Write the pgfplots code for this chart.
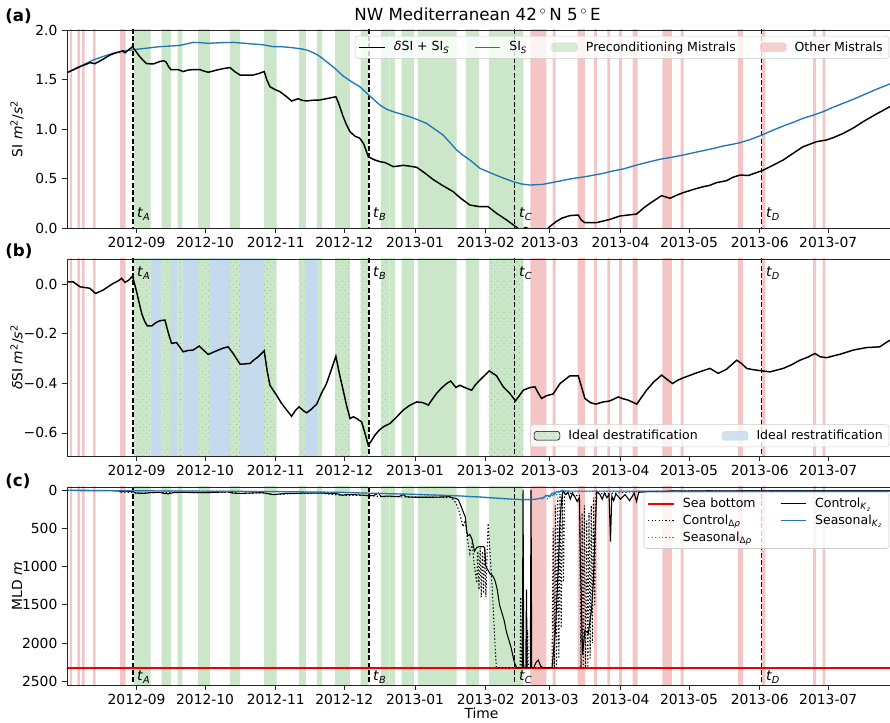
\documentclass[border=0pt]{standalone}
\usepackage{pgfplots}
\pgfplotsset{compat=1.18}
\usepackage{pgfplotstable}
\usepackage{fontspec}
\setmainfont{DejaVu Sans}
\usetikzlibrary{patterns.meta}
\definecolor{grn}{RGB}{203,230,201}
\definecolor{redb}{RGB}{244,197,197}
\definecolor{bluband}{RGB}{197,218,236}
\definecolor{tabblue}{RGB}{31,119,180}
\definecolor{dotgrn}{RGB}{125,188,125}
\definecolor{seared}{RGB}{240,0,0}

\pgfplotstableread{
x f
-29.2 0
-29.2 1
-28.2 0
-26.0 1
-24.8 0
-24.0 1
-22.8 0
-19.1 1
-18.0 0
-7.3 1
-4.8 0
172.5 1
179.5 0
182.3 1
183.6 0
193.2 1
196.4 0
200.4 1
201.7 0
206.2 1
207.5 0
211.3 1
212.6 0
217.3 1
219.5 0
230.3 1
234.5 0
238.3 1
239.6 0
263.4 1
265.6 0
273.9 1
275.5 0
296.4 1
297.7 0
300.5 1
301.8 0
-29.2 0
}\redtab
\pgfplotstableread{
x f
-1.2 0
-1.2 1
6.1 0
11.0 1
15.0 0
18.0 1
20.1 0
26.9 1
32.1 0
40.9 1
45.3 0
55.9 1
61.3 0
71.1 1
74.2 0
79.0 1
81.3 0
87.0 1
93.4 0
98.1 1
101.5 0
107.0 1
110.7 0
111.0 1
113.3 0
116.1 1
121.5 0
123.2 1
140.2 0
144.3 1
150.1 0
154.3 1
169.4 0
-1.2 0
}\grntab
\pgfplotstableread{
x f
-1.2 0
-1.2 1
6.1 0
11.0 1
15.0 0
18.0 1
20.1 0
26.9 1
32.1 0
40.9 1
45.3 0
55.9 1
61.3 0
71.1 1
74.2 0
87.0 1
93.4 0
98.1 1
101.5 0
107.0 1
110.7 0
154.3 1
169.4 0
-1.2 0
}\destab
\pgfplotstableread{
x f
6.1 0
6.1 1
11.0 0
15.0 1
18.0 0
20.1 1
26.9 0
32.1 1
40.9 0
45.3 1
55.9 0
74.2 1
79.0 0
6.1 0
}\restab

\pgfplotstableread{
x v
-30.5 1.569
-27.5 1.600
-24.8 1.630
-22 1.655
-20.5 1.670
-18.3 1.660
-15 1.700
-11.7 1.747
-9 1.770
-7.3 1.780
-6 1.790
-5.1 1.770
-3.5 1.800
-1.8 1.830
-0.5 1.790
1.4 1.730
3 1.690
4.4 1.660
7.3 1.657
10 1.680
11.7 1.690
12.8 1.680
14 1.630
15.0 1.600
18.2 1.600
20.4 1.580
22.5 1.595
24.8 1.600
27.7 1.600
29.5 1.585
31.4 1.573
35 1.595
38 1.610
40.9 1.620
43 1.580
45.3 1.545
51.1 1.545
53.5 1.560
55.9 1.580
57 1.500
58.4 1.427
60.5 1.400
62.8 1.377
65.5 1.330
67.9 1.283
69.5 1.295
70.8 1.306
72.5 1.290
74.5 1.283
77 1.290
80.3 1.293
84 1.310
87.3 1.326
88.5 1.260
90.5 1.125
92 1.040
93.5 0.973
95.5 0.930
97.8 0.906
99.5 0.850
101.5 0.720
104 0.690
106.6 0.670
109 0.660
112.4 0.620
114.5 0.625
116.8 0.633
119.5 0.625
122.7 0.613
126 0.560
129.9 0.490
134 0.430
138.7 0.367
142 0.300
146.0 0.232
150.4 0.215
154.0 0.215
157.7 0.148
162.1 0.081
165.7 0.020
168 -0.02
170.5 0.005
172 -0.01
175 -0.04
178 -0.05
181 0.013
183.5 0.060
186.2 0.098
189.8 0.125
193.5 0.131
194.8 0.080
196.4 0.054
201.5 0.054
207.4 0.087
211.7 0.121
215 0.130
219.1 0.141
222 0.200
224.9 0.249
230 0.327
233.7 0.300
236.5 0.330
239.5 0.357
244 0.390
248.2 0.417
251 0.430
254.1 0.458
258.5 0.478
261 0.510
264.4 0.535
268 0.530
271 0.555
274 0.579
278.5 0.630
283.3 0.687
288 0.760
292 0.821
297.9 0.872
302.3 0.889
305.5 0.915
309.6 0.956
314 1.010
318.3 1.074
324 1.150
330 1.225
332.7 1.255
}\sitot
\pgfplotstableread{
x v
-30.5 1.569
-25 1.630
-19 1.697
-15 1.730
-10.2 1.765
-5 1.790
0 1.805
5 1.818
10.2 1.832
15 1.838
19 1.845
22 1.860
24.8 1.875
28 1.872
31.4 1.865
37 1.872
42.3 1.875
46 1.868
51.1 1.858
55 1.852
59.8 1.832
64 1.830
68.6 1.820
72 1.810
74.5 1.798
76.5 1.780
78.9 1.754
81 1.720
83.2 1.680
87 1.610
90.5 1.535
94 1.480
97.8 1.427
100 1.380
102.2 1.333
104.5 1.285
106.6 1.242
109.5 1.200
112.4 1.175
116 1.150
119.7 1.124
123.5 1.090
127 1.057
130.5 1.000
134.3 0.939
137 0.870
140.2 0.788
143 0.735
146 0.687
148.5 0.640
150.4 0.603
154.8 0.559
160 0.510
165 0.468
168.5 0.445
172.3 0.434
178.1 0.441
184 0.468
189.8 0.495
197 0.520
204.4 0.552
208.5 0.575
213.2 0.596
219.1 0.636
224 0.665
229.3 0.694
234.5 0.715
239.5 0.737
244 0.760
248.2 0.781
253 0.805
257 0.828
261 0.845
264.4 0.862
269 0.895
274 0.939
278.5 0.985
283.3 1.030
288 1.070
292 1.108
296.5 1.140
300.8 1.175
305 1.218
309.6 1.260
314 1.300
318.3 1.343
324 1.400
330 1.455
332.7 1.480
}\sis

\pgfplotstableread{
x v
-30.5 0.009
-27.8 0.009
-24.8 -0.011
-23.4 -0.013
-20.5 -0.017
-18 -0.038
-14.6 -0.024
-10.2 0.003
-8 0.013
-6.6 0.023
-5.1 0.007
-3.5 0.015
-1.8 0.032
0 -0.031
2.2 -0.118
3.5 -0.150
4.7 -0.169
6.6 -0.169
8.5 -0.155
10.2 -0.148
12.4 -0.145
14 -0.200
15.3 -0.239
17.5 -0.236
20.4 -0.273
22.5 -0.268
24.8 -0.266
27.4 -0.250
29.5 -0.268
31.4 -0.284
33.5 -0.275
35.8 -0.266
38 -0.258
40.1 -0.253
42.3 -0.280
45.3 -0.323
47.5 -0.322
49.7 -0.320
51.5 -0.305
53.3 -0.293
55.9 -0.269
57.2 -0.350
58.4 -0.408
61.3 -0.448
63.5 -0.481
65.5 -0.505
67.9 -0.533
69.5 -0.510
71.2 -0.495
73 -0.510
74.5 -0.519
76.5 -0.505
78.9 -0.484
81 -0.440
83.2 -0.401
85.5 -0.340
87.3 -0.291
88.8 -0.360
90.5 -0.428
92 -0.490
93.5 -0.542
95 -0.535
96.4 -0.542
98.6 -0.556
100 -0.600
101.5 -0.650
103 -0.630
104.4 -0.609
106.2 -0.590
108 -0.576
111 -0.562
114 -0.535
116.8 -0.508
119.5 -0.490
122.7 -0.475
125.5 -0.478
127.8 -0.488
129.5 -0.465
131.4 -0.441
133.5 -0.420
135.8 -0.401
137.6 -0.391
139.9 -0.417
141.6 -0.408
144 -0.418
146.8 -0.428
148.5 -0.405
150.4 -0.387
152.5 -0.368
154.5 -0.350
157.7 -0.370
160.6 -0.414
163.5 -0.441
166 -0.471
169.4 -0.428
172 -0.418
174.5 -0.414
176 -0.440
177.4 -0.461
179.6 -0.450
182.5 -0.443
185.5 -0.401
189.8 -0.370
193.5 -0.370
196.4 -0.461
198.8 -0.478
201.2 -0.484
204 -0.476
207.4 -0.471
211 -0.455
213 -0.462
215.4 -0.468
219.1 -0.484
223.4 -0.428
226.5 -0.395
230 -0.367
232.5 -0.385
234.8 -0.401
237 -0.388
239.5 -0.378
245.3 -0.358
251.2 -0.340
254.8 -0.360
258.5 -0.343
262.9 -0.307
265 -0.320
267.3 -0.340
270 -0.345
274 -0.350
277.5 -0.354
283.3 -0.340
287 -0.325
290.6 -0.307
294 -0.295
297.2 -0.280
299.5 -0.293
302.3 -0.297
305 -0.290
308.2 -0.283
314 -0.266
319.8 -0.256
325.6 -0.253
329 -0.232
332.7 -0.215
}\dsi

\pgfplotstableread{
x z
-30.5 5
-8 10
-7 25
-5 15
-2 20
0 40
3 45
6 35
10 30
12 45
14 50
16 35
20 30
25 35
30 35
35 30
40 25
42 40
45 45
50 40
55 35
58 50
60 60
62 55
65 45
70 45
75 40
80 40
85 45
88 50
90 70
92 60
95 60
100 70
102 75
104 70
106 40
107 85
110 80
115 85
117 60
118 90
122 95
126 95
130 95
135 90
137 85
138 100
140 110
141 130
142 200
143 280
144 350
144.5 500
145 600
146 580
147 650
148 800
149 750
150 740
152 740
152.5 760
153 1000
154 1050
155 1100
156 1120
157 1180
158 1300
159 1500
160 1600
161 1700
162 1850
163 1950
164 2050
165.5 2250
166.5 2320
169 2320
169.3 0
169.6 2320
170.5 2320
170.8 1300
171.1 2320
172.5 2320
172.8 0
173.1 2320
174 2320
175 2250
176 2220
177 2300
178 2320
182 2320
183.5 1830
184.7 1044
185.5 400
186.2 130
186.8 10
188 60
189 30
190 120
191 40
192 90
193 150
194 100
194.5 1044
195.4 2154
196.4 1830
197.9 1870
199.3 1566
200.1 1200
200.8 600
201.6 20
203 60
204 120
205 40
206 100
207 60
207.6 675
208.2 80
209 140
210 50
212 120
214 60
216 140
218 40
219 150
220 30
225 20
230 25
235 10
240 15
250 10
260 12
270 8
280 10
300 10
320 10
332.7 10
}\ckz
\pgfplotstableread{
x z
-7 25
0 40
10 30
20 30
30 35
40 25
45 45
55 35
60 60
70 45
80 40
90 70
100 70
107 85
118 90
130 95
138 100
140 174
141.5 300
143 480
144 400
145 650
146 830
147 700
148 1000
149 1214
149.5 800
150 1300
150.5 750
151 1400
151.5 800
152 1350
152.5 750
153 1400
153.5 900
154 435
155 900
156 1400
157 2000
157.6 2320
168 2320
168.3 1400
168.6 2320
171 2320
171.3 1830
171.6 2320
182 2320
182.5 500
183 2320
183.5 200
184 2320
184.5 100
185 2200
185.5 50
186 1800
186.5 30
187 1200
187.5 40
190 40
192 80
194 60
194.7 2320
195.2 300
195.7 2320
196.2 200
196.7 2320
197.2 400
197.7 2320
198.2 300
198.7 2200
199.2 200
199.7 2000
200.2 100
200.7 1500
201.2 40
205 50
210 40
220 20
240 10
332.7 10
}\cdr
\pgfplotstableread{
x z
-30.5 5
0 10
30 15
60 20
90 30
100 40
120 55
140 75
150 90
160 110
165 120
170 125
175 120
178 100
180 70
181 90
182 40
183 60
184 20
185 30
186 10
190 15
250 15
332.7 15
}\skz
\pgfplotstableread{
x z
-30.5 5
0 12
30 15
60 22
90 32
100 42
120 58
140 78
150 95
160 115
165 125
170 130
175 125
177 105
178 130
179 70
180 110
181 50
182 90
183 30
184 60
185 15
190 25
200 20
250 20
332.7 20
}\sdr

\newcommand{\fs}{\fontsize{10.4}{12.5}\selectfont}
\newcommand{\lfs}{\fontsize{9.4}{11.3}\selectfont}
\tikzset{
  dotpat/.style={pattern={Dots[radius=0.35pt,distance=3.3pt,angle=45]}, pattern color=dotgrn},
  tlab/.style={anchor=west, inner sep=1pt, xshift=2pt, font=\fs},
}
\pgfplotsset{
  panel/.style={
    scale only axis, width=621.75pt,
    xmin=-30.5, xmax=332.7,
    xtick={0,30,61,91,122,153,181,212,242,273,303},
    xticklabels={2012-09,2012-10,2012-11,2012-12,2013-01,2013-02,2013-03,2013-04,2013-05,2013-06,2013-07},
    tick align=outside, tick pos=left,
    major tick length=3.7pt,
    every tick/.style={black!85, line width=0.6pt},
    axis line style={black!85, line width=0.6pt},
    ticklabel style={font=\fs},
    every axis y label/.style={at={(axis description cs:-0.0603,0.5)}, rotate=90, anchor=center, font=\fs},
    axis on top,
    legend cell align=left,
    legend style={font=\lfs, fill=white, fill opacity=0.8, text opacity=1, draw=black!20, draw opacity=1,
      rounded corners=2pt, inner xsep=2.5pt, inner ysep=2pt,
      /tikz/every even column/.append style={column sep=16.2pt},
      /tikz/every odd column/.append style={column sep=4.2pt}},
  },
  band/.style={const plot, draw=none, forget plot},
  lleg/.style={legend image code/.code={\draw[#1] (0pt,0pt) -- (19.3pt,0pt);}},
  aleg/.style={legend image code/.code={\fill[#1] (0pt,-3.3pt) rectangle (19.3pt,3.3pt);}},
  dleg/.style={legend image code/.code={\fill[grn] (0pt,-3.3pt) rectangle (19.3pt,3.3pt);
      \fill[dotpat] (0pt,-3.3pt) rectangle (19.3pt,3.3pt);}},
  tline/.style={black, line width=0.9pt, dash pattern=on 3.8pt off 1.7pt, forget plot},
}

\begin{document}
\begin{tikzpicture}
\useasboundingbox (0,0) rectangle (667.5pt,-542.25pt);

\node[font=\fontsize{12.5}{15}\selectfont] at (358.1pt,-10.5pt) {NW Mediterranean 42\,$^\circ$\,N 5\,$^\circ$\,E};
\node[anchor=west, font=\bfseries\fontsize{12.5}{15}\selectfont] at (0.5pt,-12pt) {(a)};
\node[anchor=west, font=\bfseries\fontsize{12.5}{15}\selectfont] at (0.5pt,-188.25pt) {(b)};
\node[anchor=west, font=\bfseries\fontsize{12.5}{15}\selectfont] at (0.5pt,-360.75pt) {(c)};

% ===== (a) =====
\begin{axis}[panel, at={(50.25pt,-171pt)}, anchor=south west, height=148.5pt,
  ymin=0, ymax=2,
  ytick={0,0.5,1,1.5,2}, yticklabels={0.0,0.5,1.0,1.5,2.0},
  ylabel={SI \textit{m}\textsuperscript{2}/\textit{s}\textsuperscript{2}},
  legend columns=4,
  legend style={at={(axis description cs:0.9916,0.97)}, anchor=north east}]
\addplot[band, fill=grn] table[y expr=\thisrow{f}*10-5] {\grntab};
\addplot[band, fill=redb] table[y expr=\thisrow{f}*10-5] {\redtab};
\addplot[tline] coordinates {(-1.6,-5) (-1.6,5)};
\addplot[tline] coordinates {(101.8,-5) (101.8,5)};
\addplot[tline] coordinates {(165.7,-5) (165.7,5)};
\addplot[tline] coordinates {(273.9,-5) (273.9,5)};
\addplot[color=tabblue, line width=1pt, forget plot] table[x=x, y=v] {\sis};
\addplot[color=black, line width=1.1pt, forget plot] table[x=x, y=v] {\sitot};
\node[tlab] at (axis cs:-1.6,0.14) {\textit{t}\textsubscript{\textit{A}}};
\node[tlab] at (axis cs:101.8,0.14) {\textit{t}\textsubscript{\textit{B}}};
\node[tlab] at (axis cs:165.7,0.14) {\textit{t}\textsubscript{\textit{C}}};
\node[tlab] at (axis cs:273.9,0.14) {\textit{t}\textsubscript{\textit{D}}};
\addlegendimage{lleg={color=black, line width=1.1pt}}
\addlegendentry{\textit{δ}SI + SI\textsubscript{\textit{S}}}
\addlegendimage{lleg={color=tabblue, line width=1.1pt}}
\addlegendentry{SI\textsubscript{\textit{S}}}
\addlegendimage{aleg=grn}
\addlegendentry{Preconditioning Mistrals}
\addlegendimage{aleg=redb}
\addlegendentry{Other Mistrals}
\end{axis}

% ===== (b) =====
\begin{axis}[panel, at={(50.25pt,-342pt)}, anchor=south west, height=147.75pt,
  ymin=-0.693, ymax=0.101,
  ytick={-0.6,-0.4,-0.2,0}, yticklabels={−0.6,−0.4,−0.2,0.0},
  ylabel={\textit{δ}SI \textit{m}\textsuperscript{2}/\textit{s}\textsuperscript{2}},
  legend columns=2,
  legend style={at={(axis description cs:0.9916,0.045)}, anchor=south east}]
\addplot[band, fill=grn] table[y expr=\thisrow{f}*10-5] {\grntab};
\addplot[band, fill=bluband] table[y expr=\thisrow{f}*10-5] {\restab};
\addplot[band, dotpat] table[y expr=\thisrow{f}*10-5] {\destab};
\addplot[band, fill=redb] table[y expr=\thisrow{f}*10-5] {\redtab};
\addplot[tline] coordinates {(-1.6,-5) (-1.6,5)};
\addplot[tline] coordinates {(101.8,-5) (101.8,5)};
\addplot[tline] coordinates {(165.7,-5) (165.7,5)};
\addplot[tline] coordinates {(273.9,-5) (273.9,5)};
\addplot[color=black, line width=1.1pt, forget plot] table[x=x, y=v] {\dsi};
\node[tlab] at (axis cs:-1.6,0.044) {\textit{t}\textsubscript{\textit{A}}};
\node[tlab] at (axis cs:101.8,0.044) {\textit{t}\textsubscript{\textit{B}}};
\node[tlab] at (axis cs:165.7,0.044) {\textit{t}\textsubscript{\textit{C}}};
\node[tlab] at (axis cs:273.9,0.044) {\textit{t}\textsubscript{\textit{D}}};
\addlegendimage{dleg}
\addlegendentry{Ideal destratification}
\addlegendimage{aleg=bluband}
\addlegendentry{Ideal restratification}
\end{axis}

% ===== (c) =====
\begin{axis}[panel, at={(50.25pt,-513.75pt)}, anchor=south west, height=148.5pt,
  ymin=-2546, ymax=39,
  ytick={-2500,-2000,-1500,-1000,-500,0}, yticklabels={2500,2000,1500,1000,500,0},
  ylabel={MLD \textit{m}},
  xlabel={Time},
  xlabel style={at={(axis description cs:0.5,-0.141)}, anchor=center, font=\fs},
  legend columns=2,
  legend style={at={(axis description cs:0.9916,0.973)}, anchor=north east}]
\addplot[band, fill=grn] table[y expr=\thisrow{f}*9000-5000] {\grntab};
\addplot[band, fill=redb] table[y expr=\thisrow{f}*9000-5000] {\redtab};
\addplot[tline] coordinates {(-1.6,-5000) (-1.6,500)};
\addplot[tline] coordinates {(101.8,-5000) (101.8,500)};
\addplot[tline] coordinates {(165.7,-5000) (165.7,500)};
\addplot[tline] coordinates {(273.9,-5000) (273.9,500)};
\addplot[color=seared, line width=1.25pt, forget plot] coordinates {(-40,-2320) (340,-2320)};
\addplot[color=black, line width=0.8pt, dash pattern=on 1pt off 1.6pt, forget plot] table[x=x, y expr=-\thisrow{z}] {\cdr};
\addplot[color=tabblue, line width=0.8pt, dash pattern=on 1pt off 1.6pt, forget plot] table[x=x, y expr=-\thisrow{z}] {\sdr};
\addplot[color=black, line width=0.8pt, forget plot] table[x=x, y expr=-\thisrow{z}] {\ckz};
\addplot[color=tabblue, line width=0.9pt, forget plot] table[x=x, y expr=-\thisrow{z}] {\skz};
\node[tlab] at (axis cs:-1.6,-2441) {\textit{t}\textsubscript{\textit{A}}};
\node[tlab] at (axis cs:101.8,-2441) {\textit{t}\textsubscript{\textit{B}}};
\node[tlab] at (axis cs:165.7,-2441) {\textit{t}\textsubscript{\textit{C}}};
\node[tlab] at (axis cs:273.9,-2441) {\textit{t}\textsubscript{\textit{D}}};
\addlegendimage{lleg={color=seared, line width=1.25pt}}
\addlegendentry{Sea bottom}
\addlegendimage{lleg={color=black, line width=0.8pt}}
\addlegendentry{Control\textsubscript{\textit{K}\textsubscript{\textit{z}}}}
\addlegendimage{lleg={color=black, line width=0.8pt, dash pattern=on 1pt off 1.6pt}}
\addlegendentry{Control\textsubscript{Δ\textit{ρ}}}
\addlegendimage{lleg={color=tabblue, line width=0.9pt}}
\addlegendentry{Seasonal\textsubscript{\textit{K}\textsubscript{\textit{z}}}}
\addlegendimage{lleg={color=tabblue, line width=0.9pt, dash pattern=on 1pt off 1.6pt}}
\addlegendentry{Seasonal\textsubscript{Δ\textit{ρ}}}
\end{axis}
\end{tikzpicture}
\end{document}
